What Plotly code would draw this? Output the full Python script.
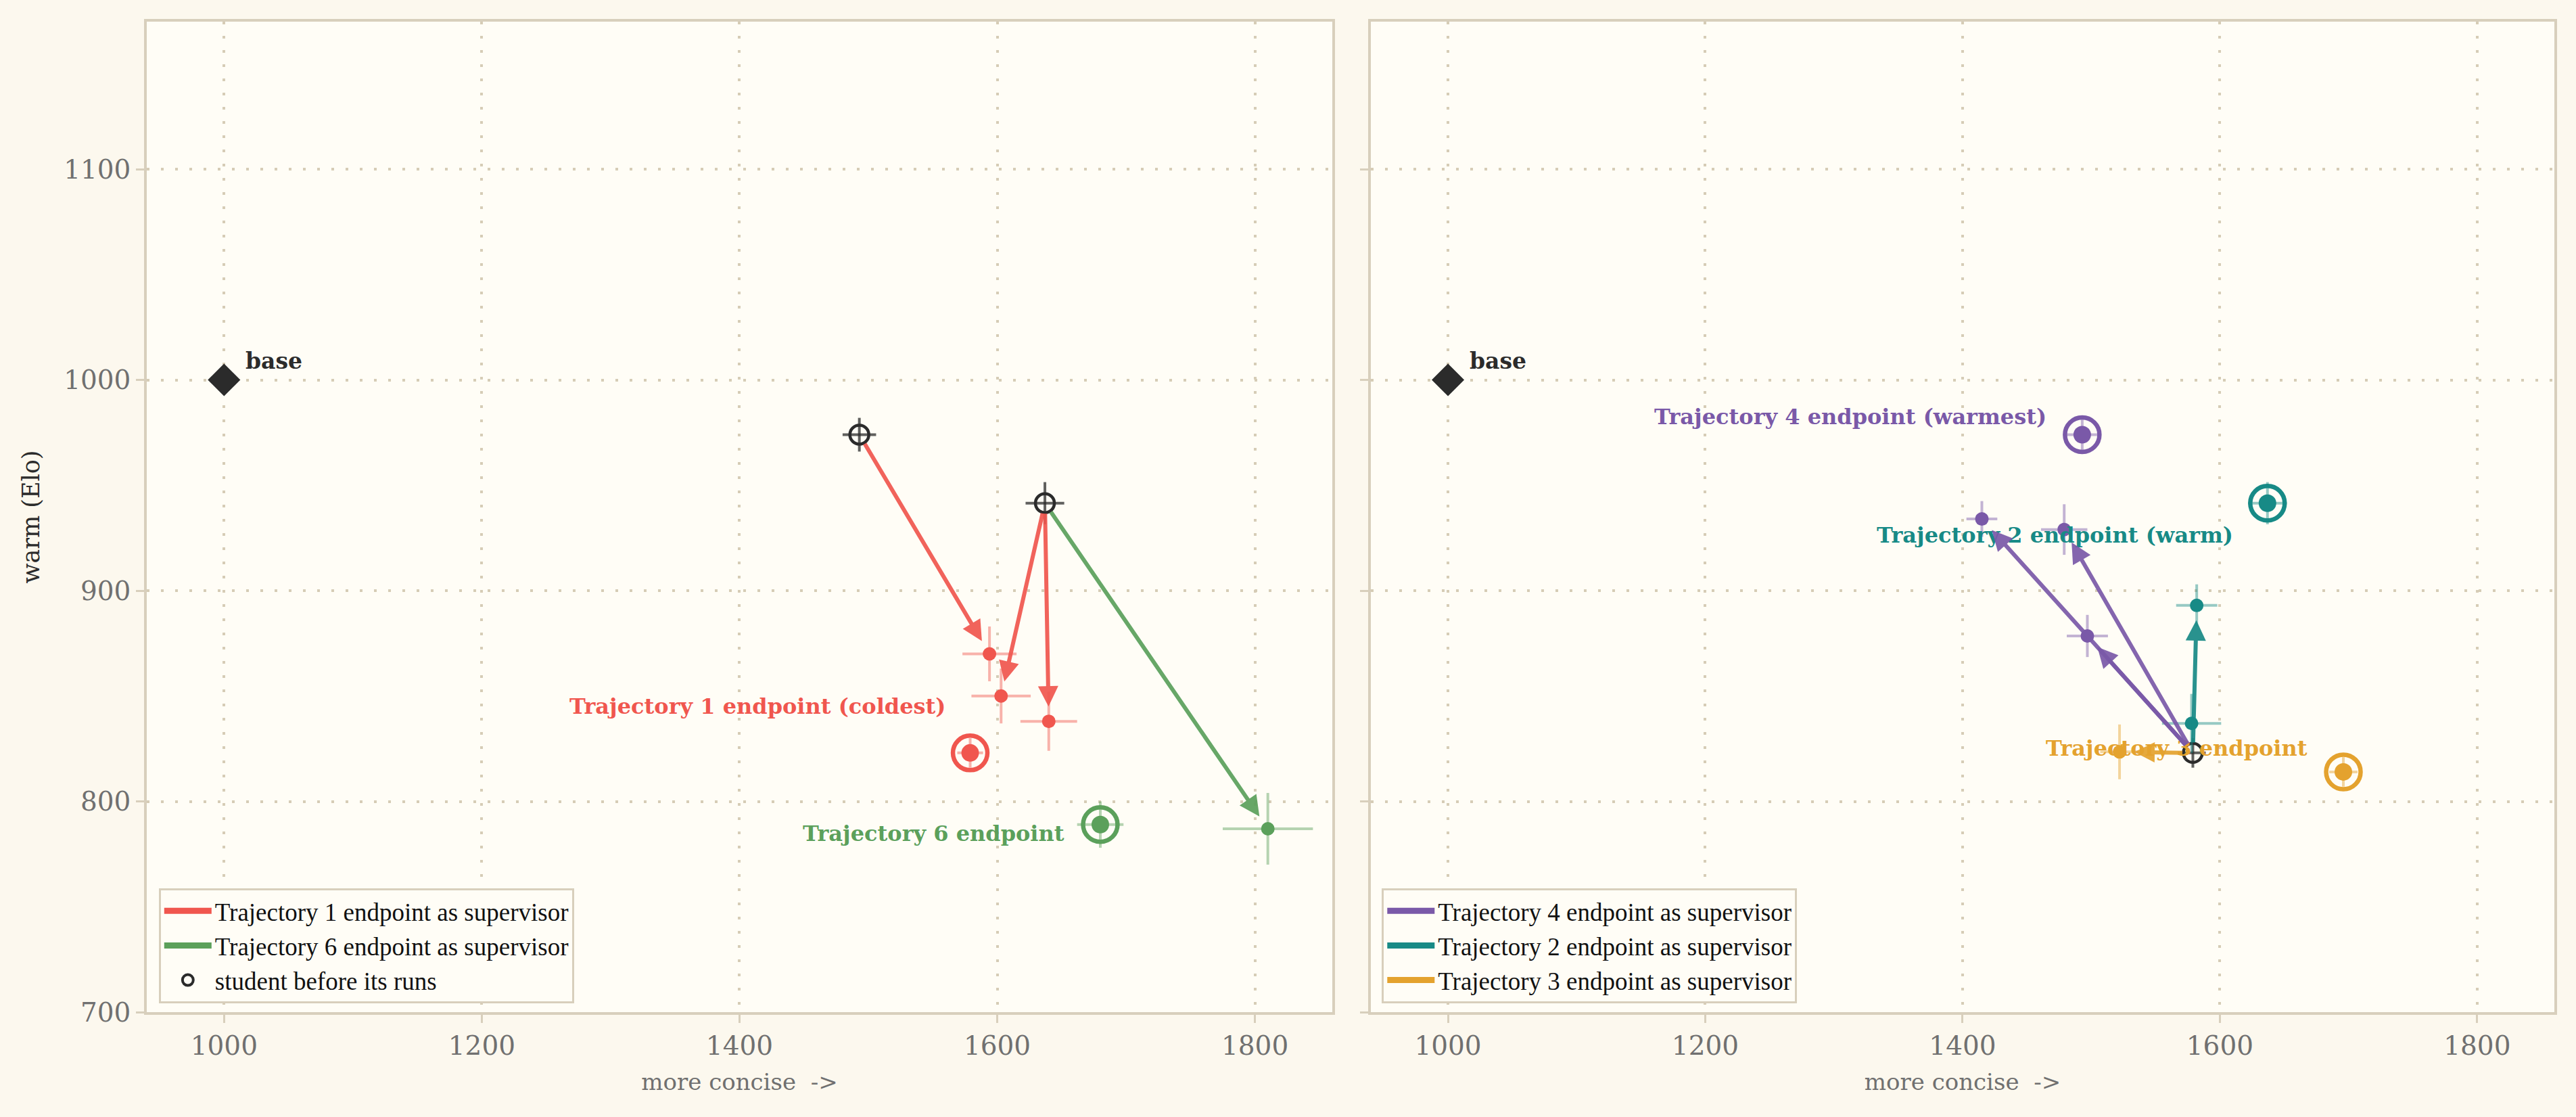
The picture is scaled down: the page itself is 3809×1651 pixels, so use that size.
import plotly.graph_objects as go
from plotly.subplots import make_subplots

# ---------------- data ----------------
base_x = [1000]
base_y = [1000]

endpoint_names = ["Trajectory 1", "Trajectory 6", "Trajectory 4", "Trajectory 2", "Trajectory 3"]
endpoint_x = [1579, 1680, 1493, 1637, 1696]
endpoint_y = [823, 789, 974, 941.5, 814]
endpoint_err_x = [10, 18, 13, 15, 11]
endpoint_err_y = [7, 11, 8, 10, 7]
endpoint_labels = ["Trajectory 1 endpoint (coldest)", "Trajectory 6 endpoint",
                   "Trajectory 4 endpoint (warmest)", "Trajectory 2 endpoint (warm)",
                   "Trajectory 3 endpoint"]

# left panel runs
left_supervisors = ["Trajectory 1", "Trajectory 6"]
left_run_sup = ["Trajectory 1", "Trajectory 1", "Trajectory 1", "Trajectory 6"]
left_run_student = ["Trajectory 4", "Trajectory 2", "Trajectory 2", "Trajectory 2"]
left_run_x = [1594, 1603, 1640, 1810]
left_run_y = [870, 850, 838, 787]
left_run_ex = [21, 23, 22, 35]
left_run_ey = [13, 13, 14, 17]

# right panel runs
right_supervisors = ["Trajectory 4", "Trajectory 2", "Trajectory 3"]
right_run_sup = ["Trajectory 4", "Trajectory 4", "Trajectory 4", "Trajectory 2", "Trajectory 2", "Trajectory 3"]
right_run_student = ["Trajectory 1"] * 6
right_run_x = [1415, 1479, 1497, 1582, 1578, 1522]
right_run_y = [934, 929, 878.5, 893, 837, 823.5]
right_run_ex = [12, 18, 16, 16, 23, 15]
right_run_ey = [8.5, 12, 10, 10, 14, 13]

x_ticks = [1000, 1200, 1400, 1600, 1800]
y_ticks = [700, 800, 900, 1000, 1100]

# ---------------- style ----------------
COLORS = {
    "Trajectory 1": "#F0564E",
    "Trajectory 6": "#5BA05B",
    "Trajectory 4": "#7A59A8",
    "Trajectory 2": "#178A86",
    "Trajectory 3": "#E4A22E",
}
LABEL_OFFSETS = {
    "Trajectory 1": (-35, 69),
    "Trajectory 6": (-51, -13),
    "Trajectory 4": (-51, 27),
    "Trajectory 2": (-49, -47),
    "Trajectory 3": (-51, 35),
}
DARK = "#2B2B2B"
PAPER = "#FCF8EE"
PLOT = "#FFFDF6"
FRAME = "#D8CFBC"
GRID = "#D6CCB6"
TICK = "#707070"
SERIF = "DejaVu Serif"
LEG_FONT = "Liberation Serif"


def rgba(hex_color, a):
    h = hex_color.lstrip("#")
    r, g, b = int(h[0:2], 16), int(h[2:4], 16), int(h[4:6], 16)
    return f"rgba({r},{g},{b},{a})"


fig = make_subplots(rows=1, cols=2, shared_yaxes=True)
annotations = []


def idx(name):
    return endpoint_names.index(name)


def add_panel(col, supervisors, run_sup, run_student, run_x, run_y, run_ex, run_ey, legend_name):
    xa = "x" if col == 1 else "x2"
    ya = "y" if col == 1 else "y2"
    # base
    fig.add_trace(go.Scatter(x=base_x, y=base_y, mode="markers",
                             marker=dict(symbol="diamond", size=37, color=DARK),
                             showlegend=False, hoverinfo="skip"), row=1, col=col)
    annotations.append(dict(x=base_x[0], y=base_y[0], xref=xa, yref=ya, text="<b>base</b>",
                            showarrow=False, xanchor="left", yanchor="middle",
                            xshift=30, yshift=28,
                            font=dict(family=SERIF, size=33, color=DARK)))
    # supervisor endpoints (rings)
    for s in supervisors:
        i = idx(s)
        c = COLORS[s]
        fig.add_trace(go.Scatter(x=[endpoint_x[i]], y=[endpoint_y[i]], mode="markers",
                                 marker=dict(symbol="circle-open", size=51, color=c,
                                             line=dict(width=6.5, color=c)),
                                 showlegend=False, hoverinfo="skip"), row=1, col=col)
        fig.add_trace(go.Scatter(x=[endpoint_x[i]], y=[endpoint_y[i]], mode="markers",
                                 marker=dict(size=26, color=c),
                                 error_x=dict(type="data", array=[endpoint_err_x[i]], color=rgba(c, 0.45),
                                              thickness=4, width=0),
                                 error_y=dict(type="data", array=[endpoint_err_y[i]], color=rgba(c, 0.45),
                                              thickness=4, width=0),
                                 showlegend=False, hoverinfo="skip"), row=1, col=col)
        dx, dy = LABEL_OFFSETS[s]
        annotations.append(dict(x=endpoint_x[i], y=endpoint_y[i], xref=xa, yref=ya,
                                text="<b>" + endpoint_labels[i] + "</b>", showarrow=False,
                                xanchor="right", yanchor="middle", xshift=dx, yshift=dy,
                                font=dict(family=SERIF, size=32, color=c)))
    # students
    students = []
    for st in run_student:
        if st not in students:
            students.append(st)
    sx = [endpoint_x[idx(s)] for s in students]
    sy = [endpoint_y[idx(s)] for s in students]
    sex = [endpoint_err_x[idx(s)] for s in students]
    sey = [endpoint_err_y[idx(s)] for s in students]
    fig.add_trace(go.Scatter(x=sx, y=sy, mode="markers",
                             marker=dict(symbol="circle-open", size=28, color=DARK,
                                         line=dict(width=4.5, color=DARK)),
                             error_x=dict(type="data", array=sex, color=rgba(DARK, 0.75), thickness=4, width=0),
                             error_y=dict(type="data", array=sey, color=rgba(DARK, 0.75), thickness=4, width=0),
                             showlegend=False, hoverinfo="skip"), row=1, col=col)
    # run points
    for s in supervisors:
        c = COLORS[s]
        ids = [k for k, v in enumerate(run_sup) if v == s]
        fig.add_trace(go.Scatter(x=[run_x[k] for k in ids], y=[run_y[k] for k in ids], mode="markers",
                                 marker=dict(size=20, color=c),
                                 error_x=dict(type="data", array=[run_ex[k] for k in ids],
                                              color=rgba(c, 0.45), thickness=4, width=0),
                                 error_y=dict(type="data", array=[run_ey[k] for k in ids],
                                              color=rgba(c, 0.45), thickness=4, width=0),
                                 showlegend=False, hoverinfo="skip"), row=1, col=col)
        for k in ids:
            st = run_student[k]
            annotations.append(dict(x=run_x[k], y=run_y[k], ax=endpoint_x[idx(st)], ay=endpoint_y[idx(st)],
                                    xref=xa, yref=ya, axref=xa, ayref=ya, text="",
                                    showarrow=True, arrowhead=2, arrowsize=1.0, arrowwidth=6,
                                    arrowcolor=rgba(c, 0.92), standoff=22, startstandoff=14))
    # legend entries
    for s in supervisors:
        fig.add_trace(go.Scatter(x=[None], y=[None], mode="lines",
                                 line=dict(color=COLORS[s], width=9),
                                 name=f"{s} endpoint as supervisor", legend=legend_name),
                      row=1, col=col)
    if col == 1:
        fig.add_trace(go.Scatter(x=[None], y=[None], mode="markers",
                                 marker=dict(symbol="circle-open", size=24, color=DARK,
                                             line=dict(width=4, color=DARK)),
                                 name="student before its runs", legend=legend_name),
                      row=1, col=col)


add_panel(1, left_supervisors, left_run_sup, left_run_student, left_run_x, left_run_y,
          left_run_ex, left_run_ey, "legend")
add_panel(2, right_supervisors, right_run_sup, right_run_student, right_run_x, right_run_y,
          right_run_ex, right_run_ey, "legend2")

axis_common = dict(showline=True, linecolor=FRAME, linewidth=3.5, mirror=True,
                   ticks="outside", tickcolor=FRAME, tickwidth=3, ticklen=12,
                   showgrid=True, gridcolor=GRID, gridwidth=4, griddash="4px,17px",
                   zeroline=False, tickfont=dict(family=SERIF, size=39, color=TICK))

fig.update_xaxes(**axis_common, range=[940, 1860], tickvals=x_ticks,
                 title=dict(text="more concise  ->", font=dict(family=SERIF, size=34, color=TICK), standoff=22))
fig.update_yaxes(**axis_common, range=[700, 1170], tickvals=y_ticks)
fig.update_layout(
    xaxis=dict(domain=[0, 0.4924]),
    xaxis2=dict(domain=[0.5084, 1]),
    yaxis=dict(title=dict(text="warm (Elo)", font=dict(family=SERIF, size=35, color=DARK), standoff=26)),
    yaxis2=dict(showticklabels=False),
)

legend_common = dict(bgcolor=PLOT, bordercolor=FRAME, borderwidth=3,
                     font=dict(family=LEG_FONT, size=37, color="#111111"),
                     xanchor="left", yanchor="bottom", tracegroupgap=0, itemwidth=70)
fig.update_layout(
    width=3809, height=1651,
    margin=dict(l=217, r=32, t=32, b=155),
    paper_bgcolor=PAPER, plot_bgcolor=PLOT,
    legend=dict(**legend_common, x=0.005, y=0.009),
    legend2=dict(**legend_common, x=0.513, y=0.009),
    annotations=annotations,
    showlegend=True,
)

fig.write_html("out.html")
